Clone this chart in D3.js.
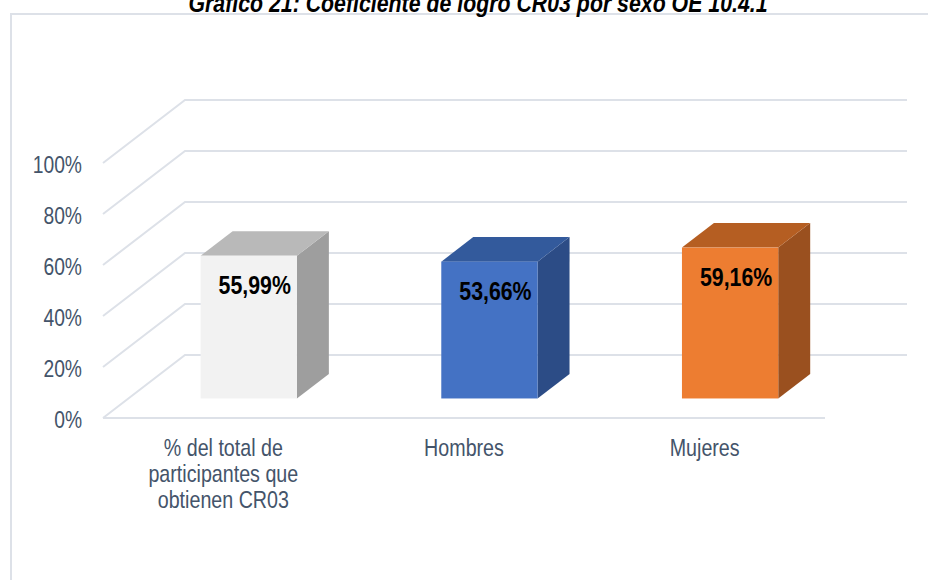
<!DOCTYPE html>
<html>
<head>
<meta charset="utf-8">
<script src="https://cdn.jsdelivr.net/npm/d3@7"></script>
<style>
  body { margin: 0; background: #fff; }
  text { font-family: "Liberation Sans", Arial, sans-serif; }
</style>
</head>
<body>
<svg></svg>
<script>
// Gráfico 21 - 3D column chart

let width = 928, height = 580;

// data
let categories = ["% del total de participantes que obtienen CR03", "Hombres", "Mujeres"];
let categoryLines = [["% del total de", "participantes que", "obtienen CR03"], ["Hombres"], ["Mujeres"]];
let values = [0.5599, 0.5366, 0.5916];
let valueLabels = ["55,99%", "53,66%", "59,16%"];
let ticks = [0, 0.2, 0.4, 0.6, 0.8, 1];
let tickLabels = ["0%", "20%", "40%", "60%", "80%", "100%"];

// styles
let fronts = ["#f2f2f2", "#4472c4", "#ed7d31"];
let tops = ["#b9b9b9", "#335a9c", "#b55e22"];
let sides = ["#9e9e9e", "#2c4c86", "#9a501f"];
let gridColor = "#dde1e8";
let textColor = "#44546a";

// 3d geometry
let x0 = 103, floorY = 418, plotW = 722;
let depthX = 82, depthY = -63;
let barFront = 0.31, barBack = 0.70;
let narrow = 0.82;

let svg = d3.select("svg")
  .attr("width", width)
  .attr("height", height);

let x = d3.scaleBand()
  .domain(categories)
  .range([x0, x0 + plotW]);

let h = d3.scaleLinear()
  .domain([0, 1])
  .range([0, 255]);

function place(sel, px, py) {
  sel.attr("transform", `translate(${px},${py}) scale(${narrow},1)`);
}

// chart frame
svg.append("path")
  .attr("d", `M11,${height} L11,14 L${width},14`)
  .attr("fill", "none")
  .attr("stroke", gridColor)
  .attr("stroke-width", 2);

// title (clipped at top like the source)
svg.append("text")
  .text("Gráfico 21: Coeficiente de logro CR03 por sexo OE 10.4.1")
  .attr("text-anchor", "middle")
  .attr("font-size", 26)
  .attr("font-weight", "bold")
  .attr("font-style", "italic")
  .attr("fill", "#000")
  .call(place, 478, 12);

// gridlines: side wall + back wall
let grid = svg.append("g").attr("id", "grid");
grid.selectAll("path")
  .data(ticks)
  .enter()
  .append("path")
  .attr("fill", "none")
  .attr("stroke", gridColor)
  .attr("stroke-width", 2)
  .attr("d", t => {
    let fy = floorY - h(t);
    return `M${x0},${fy} L${x0 + depthX},${fy + depthY} L${x0 + plotW + depthX},${fy + depthY}`;
  });

// floor front edge
grid.append("line")
  .attr("x1", x0).attr("x2", x0 + plotW)
  .attr("y1", floorY).attr("y2", floorY)
  .attr("stroke", gridColor)
  .attr("stroke-width", 2);

// y labels
svg.append("g")
  .selectAll("text")
  .data(ticks)
  .enter()
  .append("text")
  .text((t, i) => tickLabels[i])
  .attr("text-anchor", "end")
  .attr("font-size", 23.5)
  .attr("fill", textColor)
  .each(function(t) { place(d3.select(this), 82, floorY - h(t) + 10); });

// bars
let bw = x.bandwidth() * 0.4;
let dx = (barBack - barFront) * depthX, dy = (barBack - barFront) * depthY;

let bars = svg.append("g")
  .attr("id", "bars")
  .selectAll("g")
  .data(values)
  .enter()
  .append("g");

function barBox(v, i) {
  let left = x(categories[i]) + x.bandwidth() / 2 - bw / 2 + barFront * depthX;
  let bottom = floorY + barFront * depthY;
  let top = bottom - h(v);
  return {left, right: left + bw, bottom, top};
}

bars.append("path")
  .attr("fill", (v, i) => sides[i])
  .attr("d", (v, i) => {
    let b = barBox(v, i);
    return `M${b.right},${b.bottom} L${b.right + dx},${b.bottom + dy} L${b.right + dx},${b.top + dy} L${b.right},${b.top}Z`;
  });

bars.append("path")
  .attr("fill", (v, i) => tops[i])
  .attr("d", (v, i) => {
    let b = barBox(v, i);
    return `M${b.left},${b.top} L${b.left + dx},${b.top + dy} L${b.right + dx},${b.top + dy} L${b.right},${b.top}Z`;
  });

bars.append("rect")
  .attr("fill", (v, i) => fronts[i])
  .attr("x", (v, i) => barBox(v, i).left)
  .attr("y", (v, i) => barBox(v, i).top)
  .attr("width", bw)
  .attr("height", v => h(v));

// value labels
bars.append("text")
  .text((v, i) => valueLabels[i])
  .attr("text-anchor", "middle")
  .attr("font-size", 26)
  .attr("font-weight", "bold")
  .attr("fill", "#000")
  .each(function(v, i) {
    let b = barBox(v, i);
    place(d3.select(this), (b.left + b.right) / 2 + 6, b.top + 38);
  });

// category labels
let cats = svg.append("g")
  .selectAll("text")
  .data(categories)
  .enter()
  .append("text")
  .attr("text-anchor", "middle")
  .attr("font-size", 24)
  .attr("fill", textColor)
  .each(function(c) { place(d3.select(this), x(c) + x.bandwidth() / 2, 456); });

cats.selectAll("tspan")
  .data((c, i) => categoryLines[i])
  .enter()
  .append("tspan")
  .attr("x", 0)
  .attr("dy", (l, j) => j === 0 ? 0 : 26)
  .text(l => l);
</script>
</body>
</html>
